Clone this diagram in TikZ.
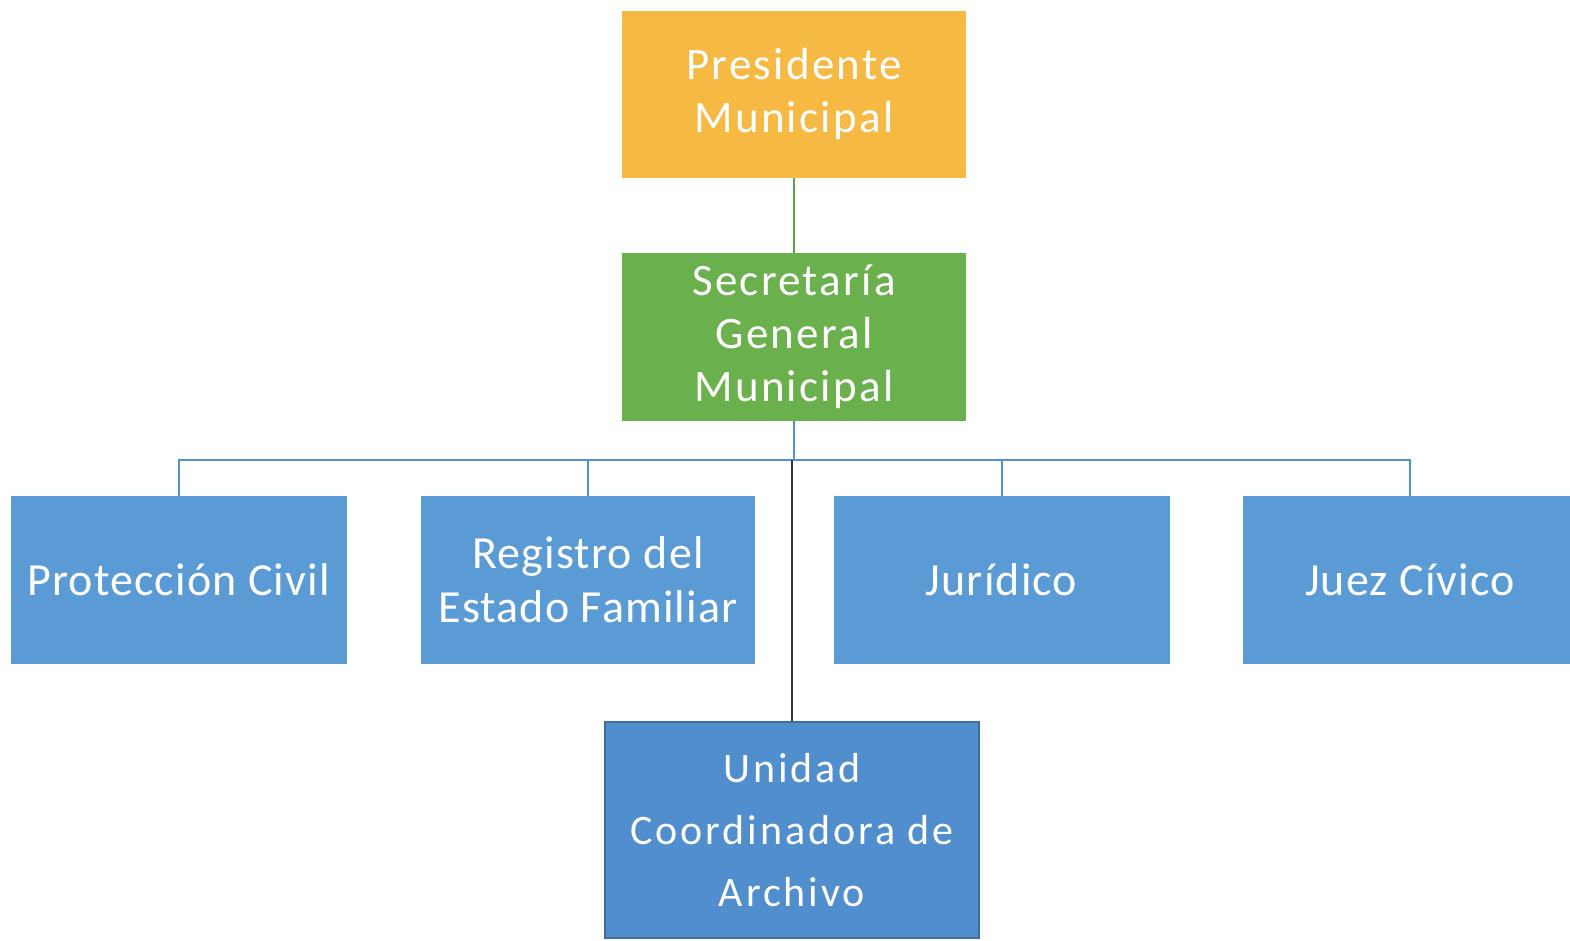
\documentclass[tikz,border=0pt]{standalone}
\usepackage{fontspec}
\setmainfont{Carlito}
\definecolor{orangebox}{RGB}{245,185,68}
\definecolor{greenbox}{RGB}{106,176,76}
\definecolor{bluebox}{RGB}{91,155,213}
\definecolor{bluedark}{RGB}{80,142,206}
\definecolor{blueedge}{RGB}{66,108,150}
\definecolor{linegreen}{RGB}{96,160,70}
\definecolor{lineblue}{RGB}{80,145,210}
\begin{document}
\begin{tikzpicture}[x=0.5pt,y=-0.5pt,
  box/.style={rectangle, draw=none, text=white, align=center, inner sep=0pt,
    font=\fontsize{22.5}{26.5}\selectfont\addfontfeature{LetterSpace=5}},
  lowbox/.style={box, fill=bluebox, minimum width=168pt, minimum height=84pt,
    font=\fontsize{23}{27}\selectfont\addfontfeature{LetterSpace=2.5}},
  gline/.style={draw=linegreen, line width=1pt},
  bline/.style={draw=lineblue, line width=1pt},
  kline/.style={draw=black!80, line width=0.8pt}]
\useasboundingbox[fill=white] (0,0) rectangle (1570,941);
\node[box, fill=orangebox, minimum width=172pt, minimum height=83.5pt] (pres) at (794,94.5) {Presidente\\Municipal};
\node[box, fill=greenbox, minimum width=172pt, minimum height=84pt] (sec) at (794,337) {Secretaría\\General\\Municipal};
\node[lowbox] (pc) at (178.5,580) {Protección Civil};
\node[lowbox, minimum width=167pt] (reg) at (588,580) {Registro del\\Estado Familiar};
\node[lowbox] (jur) at (1001.5,580) {Jurídico};
\node[lowbox, minimum width=167pt] (juez) at (1410,580) {Juez Cívico};
\node[box, fill=bluedark, draw=blueedge, line width=0.8pt, minimum width=187pt, minimum height=108pt,
  font=\fontsize{21}{31}\selectfont\addfontfeature{LetterSpace=7}] (uni) at (792,830) {Unidad\\Coordinadora de\\Archivo};
\coordinate (hub) at (794,460);
\draw[gline] (pres.south) -- (sec.north);
\draw[bline] (sec.south) -- (hub);
\draw[bline] (hub) -| (pc.north);
\draw[bline] (hub) -| (reg.north);
\draw[bline] (hub) -| (jur.north);
\draw[bline] (hub) -| (juez.north);
\draw[kline] (uni.north |- hub) -- (uni.north);
\end{tikzpicture}
\end{document}
